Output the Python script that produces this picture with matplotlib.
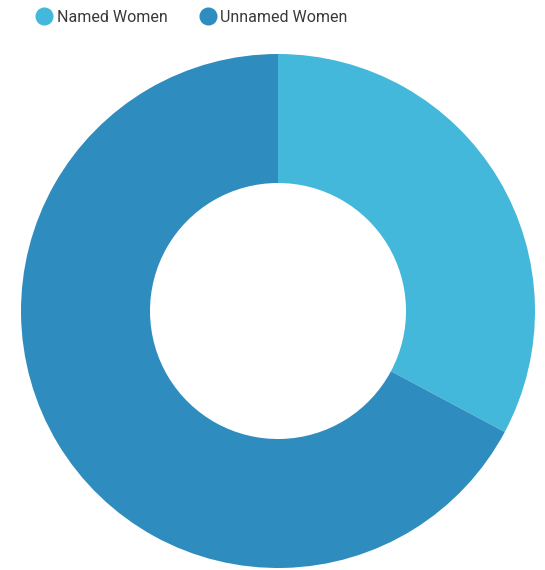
import matplotlib.pyplot as plt
from matplotlib.lines import Line2D

# Data
categories = ['Named Women', 'Unnamed Women']
shares = [32.8, 67.2]
colours = ['#43b8db', '#2f8cbf']

plt.rcParams['font.family'] = ['Roboto', 'DejaVu Sans']

fig = plt.figure(figsize=(5.45, 5.70), dpi=100)
ax = fig.add_axes([0, 0, 1, 1])

# donut, drawn in pixel-like coordinates (y measured from bottom)
ax.pie(shares, colors=colours, startangle=90, counterclock=False,
       center=(278, 259), radius=257,
       wedgeprops=dict(width=129, linewidth=0))
ax.set_xlim(0, 545)
ax.set_ylim(0, 570)
ax.set_aspect('equal')
ax.axis('off')

handles = [Line2D([0], [0], marker='o', linestyle='', markersize=12,
                  markerfacecolor=c, markeredgecolor=c) for c in colours]
fig.legend(handles, categories, loc='center', ncol=2,
           bbox_to_anchor=(192 / 545, 1 - 17 / 570), frameon=False,
           fontsize=11.5, labelcolor='#3a3a3a', handletextpad=0.3,
           columnspacing=2.0, handlelength=1.0)

plt.savefig('out.png', dpi=100)
plt.close()
